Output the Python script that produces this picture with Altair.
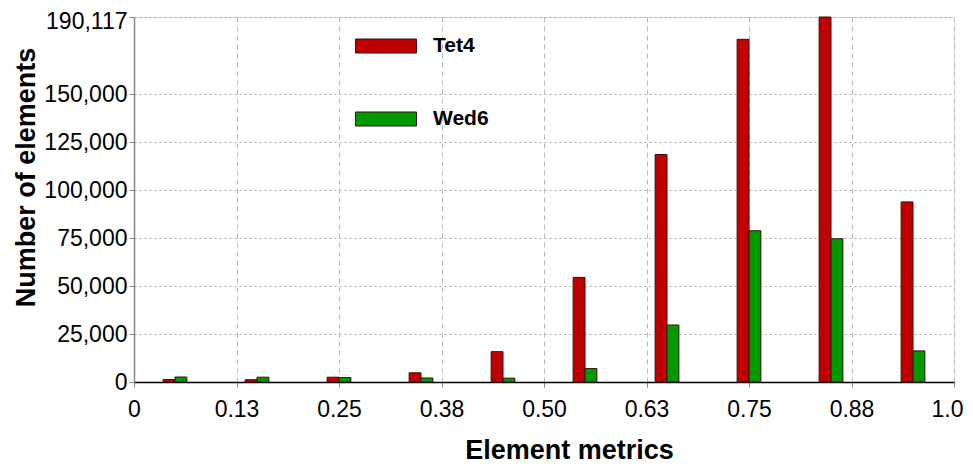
import altair as alt
import pandas as pd

# ---- data ----
bin_centers = [0.05, 0.15, 0.25, 0.35, 0.45, 0.55, 0.65, 0.75, 0.85, 0.95]
tet4 = [1300, 1200, 2500, 4800, 15800, 54500, 118500, 178500, 190117, 93800]
wed6 = [2600, 2500, 2300, 2100, 2000, 7000, 29700, 78800, 74600, 16200]
series = ["Tet4", "Wed6"]
colors = ["#c00000", "#009900"]
x_tick_values = [0, 0.125, 0.25, 0.375, 0.5, 0.625, 0.75, 0.875, 1.0]
x_tick_labels = ["0", "0.13", "0.25", "0.38", "0.50", "0.63", "0.75", "0.88", "1.0"]
y_tick_values = [0, 25000, 50000, 75000, 100000, 125000, 150000, 190117]
y_max = 190117
bar_w = 0.0145

rows = []
for c, t, w in zip(bin_centers, tet4, wed6):
    rows.append({"series": "Tet4", "x0": c - bar_w, "x1": c, "count": t})
    rows.append({"series": "Wed6", "x0": c, "x1": c + bar_w, "count": w})
df = pd.DataFrame(rows)

label_expr = "[" + ",".join("'%s'" % s for s in x_tick_labels) + "][round(datum.value*8)]"

x_label_offset = {"condition": {"test": "datum.value >= 1", "value": -7},
                  "value": 0}
y_label_offset = {"condition": {"test": "datum.value >= %d" % y_max, "value": 4},
                  "value": 0}

bars = alt.Chart(df).mark_bar(stroke="#3a1010", strokeWidth=1).encode(
    x=alt.X("x0:Q",
            scale=alt.Scale(domain=[0, 1], nice=False, zero=False),
            axis=alt.Axis(values=x_tick_values, labelExpr=label_expr,
                          title="Element metrics", titleFontSize=27, titleFontWeight="bold",
                          titleFont="Liberation Sans", titleColor="black",
                          titleX=435, titleY=76, titleBaseline="alphabetic",
                          labelFont="Liberation Sans", labelFontSize=23, labelColor="black",
                          labelPadding=11, tickSize=5, tickColor="#888",
                          labelOffset=x_label_offset,
                          domainColor="black", domainWidth=1.5,
                          grid=True, gridColor="#b8b8b8", gridDash=[5, 4], gridWidth=1,
                          labelFlush=False)),
    x2="x1:Q",
    y=alt.Y("count:Q",
            scale=alt.Scale(domain=[0, y_max], nice=False),
            axis=alt.Axis(values=y_tick_values, format=",d",
                          title="Number of elements", titleFontSize=27, titleFontWeight="bold",
                          titleFont="Liberation Sans", titleColor="black",
                          titleX=-100, titleY=160, titleBaseline="alphabetic",
                          labelFont="Liberation Sans", labelFontSize=23, labelColor="black",
                          labelPadding=2, tickSize=5, tickColor="#888",
                          labelOffset=y_label_offset,
                          domainColor="#888", domainWidth=1.5,
                          grid=True, gridColor="#aaaaaa", gridDash=[2, 3], gridWidth=1.2)),
    y2=alt.datum(0),
    color=alt.Color("series:N",
                    scale=alt.Scale(domain=series, range=colors),
                    legend=alt.Legend(title=None, orient="none", legendX=221, legendY=-2,
                                      direction="vertical",
                                      symbolType="M-1,-0.23H1V0.23H-1Z", symbolSize=3721,
                                      symbolOpacity=1, symbolStrokeColor="#3a1010",
                                      symbolStrokeWidth=1,
                                      labelFont="Liberation Sans", labelFontSize=21,
                                      labelFontWeight="bold", labelColor="black",
                                      labelOffset=16, rowPadding=32, padding=0)),
)

chart = bars.properties(
    width=820, height=365,
    autosize=alt.AutoSizeParams(type="none"),
    padding={"left": 126, "top": 9, "right": 11, "bottom": 83},
).configure_view(stroke="#888", strokeWidth=1.5).configure(background="white")

chart.save("out.html", embed_options={"renderer": "svg", "actions": False})
